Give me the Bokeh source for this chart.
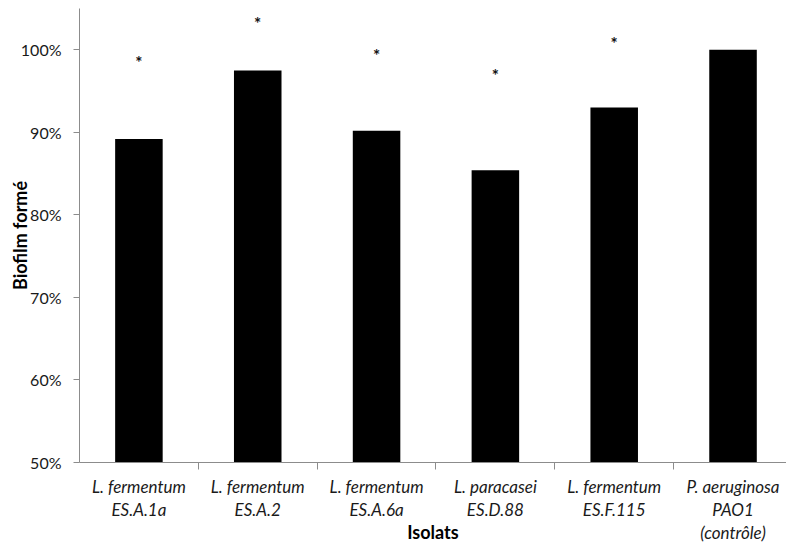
from bokeh.plotting import figure
from bokeh.models import Range1d, FixedTicker, NumeralTickFormatter, ColumnDataSource
from bokeh.core.properties import value
from bokeh.embed import file_html
from bokeh.resources import INLINE

categories = [
    "L. fermentum\nES.A.1a",
    "L. fermentum\nES.A.2",
    "L. fermentum\nES.A.6a",
    "L. paracasei\nES.D.88",
    "L. fermentum\nES.F.115",
    "P. aeruginosa\nPAO1\n(contrôle)",
]
biofilm = [0.892, 0.975, 0.902, 0.854, 0.930, 1.000]
asterisk_idx = [0, 1, 2, 3, 4]
asterisk_y = [0.9885, 1.0355, 0.9973, 0.9728, 1.0114]
y_ticks = [0.5, 0.6, 0.7, 0.8, 0.9, 1.0]

FONT = "Lato"
AXIS_COLOR = "#8c8c8c"
TEXT_COLOR = "#1a1a1a"

xs = list(range(len(categories)))

p = figure(width=786, height=545, output_backend="svg", toolbar_location=None,
           x_range=Range1d(-0.5, 5.45), y_range=Range1d(0.5, 1.05),
           min_border_left=79, min_border_right=0, min_border_top=8,
           min_border_bottom=81)
p.outline_line_color = None
p.xgrid.visible = False
p.ygrid.visible = False

src = ColumnDataSource(dict(x=xs, top=biofilm))
p.vbar(x="x", top="top", bottom=0.5, width=0.4, source=src,
       fill_color="black", line_color=None)

asrc = ColumnDataSource(dict(x=asterisk_idx, y=asterisk_y, t=["*"] * len(asterisk_idx)))
p.text(x="x", y="y", text="t", source=asrc, text_align="center",
       text_baseline="alphabetic", text_font=value(FONT), text_font_size="17px",
       text_font_style="bold", y_offset=3, text_color="#111111")

# x axis
xa = p.xaxis[0]
xa.ticker = FixedTicker(ticks=xs, minor_ticks=[i + 0.5 for i in xs[:-1]])
xa.major_label_overrides = {i: c for i, c in zip(xs, categories)}
xa.major_tick_line_color = None
xa.major_tick_out = 0
xa.major_tick_in = 0
xa.minor_tick_out = 7
xa.minor_tick_in = 0
xa.minor_tick_line_color = AXIS_COLOR
xa.axis_line_color = AXIS_COLOR
xa.major_label_text_font = FONT
xa.major_label_text_font_style = "italic"
xa.major_label_text_font_size = "17px"
xa.major_label_text_color = TEXT_COLOR
xa.major_label_text_line_height = 1.1
xa.major_label_standoff = 6
xa.axis_label = "Isolats"
xa.axis_label_text_font = FONT
xa.axis_label_text_font_style = "bold"
xa.axis_label_text_font_size = "18px"
xa.axis_label_text_color = "black"
xa.axis_label_standoff = -25

# y axis
ya = p.yaxis[0]
ya.ticker = FixedTicker(ticks=y_ticks)
ya.formatter = NumeralTickFormatter(format="0%")
ya.major_tick_out = 6
ya.major_tick_in = 0
ya.minor_tick_line_color = None
ya.major_tick_line_color = AXIS_COLOR
ya.axis_line_color = AXIS_COLOR
ya.major_label_text_font = FONT
ya.major_label_text_font_size = "16px"
ya.major_label_text_color = TEXT_COLOR
ya.major_label_standoff = 12
ya.axis_label = "Biofilm formé"
ya.axis_label_text_font = FONT
ya.axis_label_text_font_style = "bold"
ya.axis_label_text_font_size = "18px"
ya.axis_label_text_color = "black"
ya.axis_label_standoff = -13

open("out.html", "w").write(file_html(p, INLINE))
